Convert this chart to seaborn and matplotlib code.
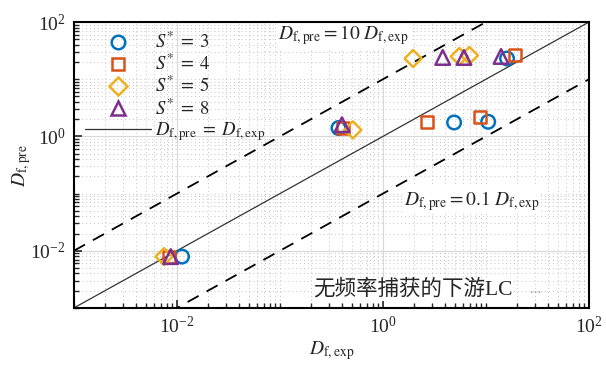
import numpy as np
import pandas as pd
import matplotlib
matplotlib.use("Agg")
import matplotlib.pyplot as plt
import matplotlib.ticker as mticker
from matplotlib.lines import Line2D
import seaborn as sns

# Measured vs. predicted damping factor for each S* group
s3_exp = [0.0112, 0.37, 4.9, 10.5, 16.0]
s3_pre = [0.0079, 1.4, 1.75, 1.8, 23.0]
s4_exp = [0.0083, 0.41, 2.7, 8.8, 19.0]
s4_pre = [0.0079, 1.4, 1.8, 2.2, 26.0]
s5_exp = [0.0075, 0.51, 1.96, 5.5, 6.9]
s5_pre = [0.0079, 1.3, 23.0, 25.0, 26.0]
s8_exp = [0.0087, 0.40, 3.8, 6.1, 14.0]
s8_pre = [0.0079, 1.6, 24.0, 24.0, 25.0]

groups = ["3", "4", "5", "8"]
colors = ["#0072BD", "#D95319", "#EDB120", "#7E2F8E"]
markers = ["o", "s", "D", "^"]
sizes = [95, 75, 75, 110]

ref_ratios = [1.0, 10.0, 0.1]
axis_range = [1e-3, 1e2]

sns.set_theme(style="white")
plt.rcParams["font.family"] = ["Liberation Serif", "Noto Sans CJK SC"]
plt.rcParams["mathtext.fontset"] = "stix"

df = pd.concat([
    pd.DataFrame({"exp": x, "pre": y, "S": g})
    for g, x, y in zip(groups, [s3_exp, s4_exp, s5_exp, s8_exp],
                       [s3_pre, s4_pre, s5_pre, s8_pre])
])

fig = plt.figure(figsize=(6.06, 3.67), dpi=100)
ax = fig.add_axes([0.122, 0.161, 0.850, 0.779])
ax.set_xscale("log")
ax.set_yscale("log")
ax.set_xlim(axis_range)
ax.set_ylim(axis_range)

# Reference lines: parity and factor-of-ten bands
xr = np.array(axis_range)
ax.plot(xr, xr * ref_ratios[0], color="#333333", lw=0.9, zorder=2)
for r in ref_ratios[1:]:
    ax.plot(xr, xr * r, color="black", lw=1.3, dashes=(7, 5), zorder=2)

handles = []
for g, c, m, s in zip(groups, colors, markers, sizes):
    sub = df[df["S"] == g]
    sns.scatterplot(data=sub, x="exp", y="pre", ax=ax, marker=m, s=s,
                    facecolor="none", edgecolor=c, linewidth=1.8, zorder=3)
    handles.append(Line2D([], [], ls="none", marker=m, markersize=np.sqrt(s),
                          markerfacecolor="none", markeredgecolor=c,
                          markeredgewidth=1.8))
handles.append(Line2D([], [], color="#333333", lw=0.9))
labels = [rf"$S^{{*}}\;=\;{g}$" for g in groups] + \
    [r"$D_{\mathrm{f,pre}}\;=\;D_{\mathrm{f,exp}}$"]

leg = ax.legend(handles, labels, loc="upper left", bbox_to_anchor=(0.0, 1.005),
                frameon=False, fontsize=13.5, handlelength=3.5, handletextpad=0.2,
                labelspacing=0.1, borderaxespad=0.2)

# Ticks and grid
for axis in (ax.xaxis, ax.yaxis):
    axis.set_major_locator(mticker.LogLocator(base=100, numticks=10))
    axis.set_minor_locator(mticker.LogLocator(base=10, subs=np.arange(1, 10), numticks=20))
    axis.set_minor_formatter(mticker.NullFormatter())
ax.xaxis.set_major_formatter(mticker.LogFormatterSciNotation(base=10))
ax.yaxis.set_major_formatter(mticker.LogFormatterSciNotation(base=10))
ax.tick_params(which="major", direction="in", length=6, width=1.2,
               labelsize=14, bottom=True, left=True, top=False, right=False, pad=6)
ax.tick_params(which="minor", direction="in", length=3.5, width=1.0,
               bottom=True, left=True, top=False, right=False)
ax.grid(True, which="major", color="#d8d8d8", lw=0.8)
ax.grid(True, which="minor", color="#c4c4c4", lw=0.7, ls=(0, (1, 3)))
ax.set_axisbelow(True)
for sp in ax.spines.values():
    sp.set_color("black")
    sp.set_linewidth(1.5)

ax.set_xlabel(r"$D_{\mathrm{f,exp}}$", fontsize=14, labelpad=1)
ax.set_ylabel(r"$D_{\mathrm{f,pre}}$", fontsize=14)
ax.yaxis.set_label_coords(-0.08, 0.5)

box = dict(facecolor="white", edgecolor="none", pad=1)
ax.text(0.095, 60, r"$D_{\mathrm{f,pre}} = 10\ D_{\mathrm{f,exp}}$",
        fontsize=14, ha="left", va="center", bbox=box, zorder=2.5)
ax.text(1.6, 0.075, r"$D_{\mathrm{f,pre}} = 0.1\ D_{\mathrm{f,exp}}$",
        fontsize=14, ha="left", va="center", bbox=box, zorder=2.5)
ax.text(0.21, 0.0021, "无频率捕获的下游LC", fontsize=15.5,
        ha="left", va="center", bbox=box, zorder=2.5)
ax.text(27, 0.0021, "...", fontsize=11, color="#9a9a9a",
        ha="left", va="center", zorder=2.5)

fig.savefig("out.png", dpi=100)
